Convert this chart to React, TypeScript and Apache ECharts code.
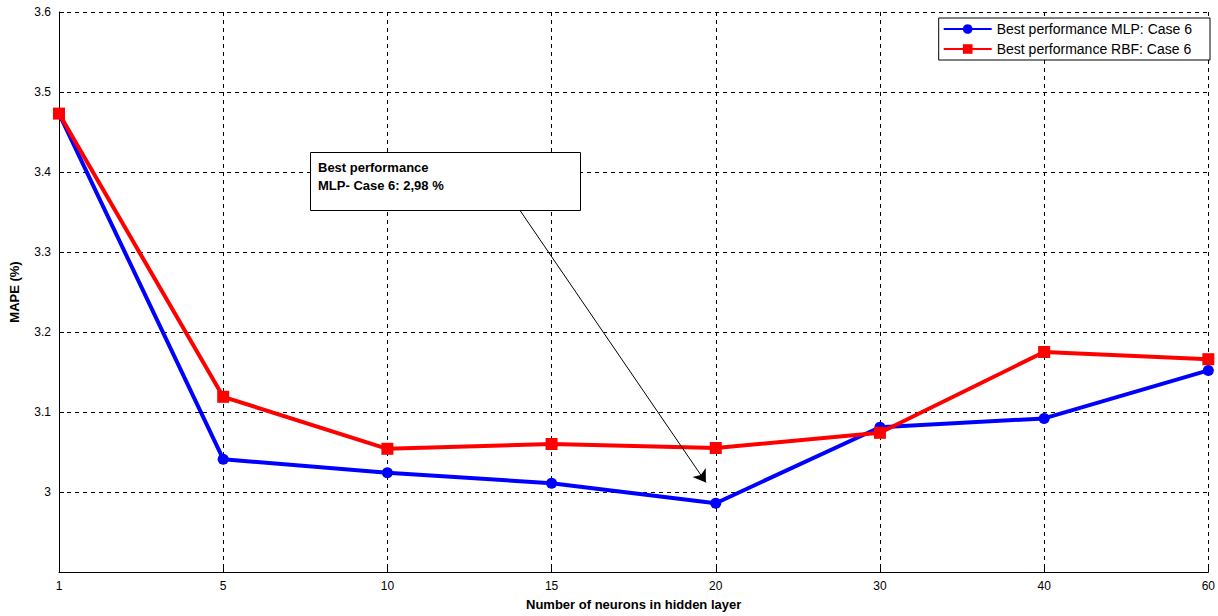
import * as echarts from "echarts";
import { useEffect, useRef } from "react";

const categories = ["1", "5", "10", "15", "20", "30", "40", "60"];
const mlpValues = [3.473, 3.041, 3.024, 3.011, 2.986, 3.081, 3.092, 3.152];
const rbfValues = [3.473, 3.119, 3.054, 3.06, 3.055, 3.074, 3.175, 3.166];
const arrowFrom = [2.806, 3.3525];
const arrowTo = [3.94, 3.012];

export default function App() {
  const ref = useRef<HTMLDivElement | null>(null);

  useEffect(() => {
    const el = ref.current;
    if (!el) return;
    const chart = echarts.init(el, undefined, { renderer: "svg" });
    const font = "Arial, 'Liberation Sans', sans-serif";

    chart.setOption({
      animation: false,
      textStyle: { fontFamily: font },
      grid: { left: 55, right: 8, top: 12, bottom: 44 },
      xAxis: {
        type: "value",
        min: 0,
        max: 7,
        interval: 1,
        name: "Number of neurons in hidden layer",
        nameLocation: "middle",
        nameGap: 26,
        nameTextStyle: { fontWeight: "bold", fontSize: 13, color: "#000" },
        axisLabel: {
          color: "#000",
          fontSize: 12,
          formatter: (v: number) => categories[v] ?? "",
        },
        axisLine: { lineStyle: { color: "#000" } },
        axisTick: { inside: true, lineStyle: { color: "#000" } },
        splitLine: { lineStyle: { color: "#000", type: [4, 4] } },
      },
      yAxis: {
        type: "value",
        min: 2.9,
        max: 3.6,
        interval: 0.1,
        name: "MAPE (%)",
        nameLocation: "middle",
        nameGap: 38,
        nameTextStyle: { fontWeight: "bold", fontSize: 13, color: "#000" },
        axisLabel: {
          color: "#000",
          fontSize: 12,
          formatter: (v: number) =>
            Math.abs(v - 2.9) < 1e-6 ? "" : Number(v.toFixed(1)).toString(),
        },
        axisLine: { show: true, lineStyle: { color: "#000" } },
        axisTick: { inside: true, lineStyle: { color: "#000" } },
        splitLine: { lineStyle: { color: "#000", type: [4, 4] } },
      },
      legend: {
        orient: "vertical",
        right: 8,
        top: 18,
        itemWidth: 48,
        itemHeight: 12,
        itemGap: 6,
        padding: [4, 18, 4, 4],
        borderColor: "#000",
        borderWidth: 1,
        backgroundColor: "#fff",
        textStyle: { fontSize: 14, color: "#000" },
      },
      series: [
        {
          name: "Best performance MLP: Case 6",
          type: "line",
          data: mlpValues.map((v, i) => [i, v]),
          symbol: "circle",
          symbolSize: 11,
          lineStyle: { width: 4, color: "#0000ff" },
          itemStyle: { color: "#0000ff" },
          markLine: {
            silent: true,
            symbol: ["none", "arrow"],
            symbolSize: 12,
            lineStyle: { color: "#000", width: 1, type: "solid" },
            label: { show: false },
            data: [[{ coord: arrowFrom }, { coord: arrowTo }]],
          },
        },
        {
          name: "Best performance RBF: Case 6",
          type: "line",
          data: rbfValues.map((v, i) => [i, v]),
          symbol: "rect",
          symbolSize: 12,
          lineStyle: { width: 4, color: "#ff0000" },
          itemStyle: { color: "#ff0000" },
        },
      ],
      graphic: [
        {
          type: "rect",
          left: 310,
          top: 152,
          shape: { width: 270, height: 58 },
          style: { fill: "#fff", stroke: "#000", lineWidth: 1 },
          z: 10,
        },
        {
          type: "text",
          left: 318,
          top: 158,
          style: {
            text: "Best performance\nMLP- Case 6: 2,98 %",
            font: `bold 13px ${font}`,
            lineHeight: 18,
            fill: "#000",
          },
          z: 11,
        },
      ],
    });

    return () => {
      chart.dispose();
    };
  }, []);

  return (
    <div
      ref={ref}
      style={{ position: "fixed", left: 0, top: 0, width: 1218, height: 616, background: "#fff" }}
    />
  );
}
